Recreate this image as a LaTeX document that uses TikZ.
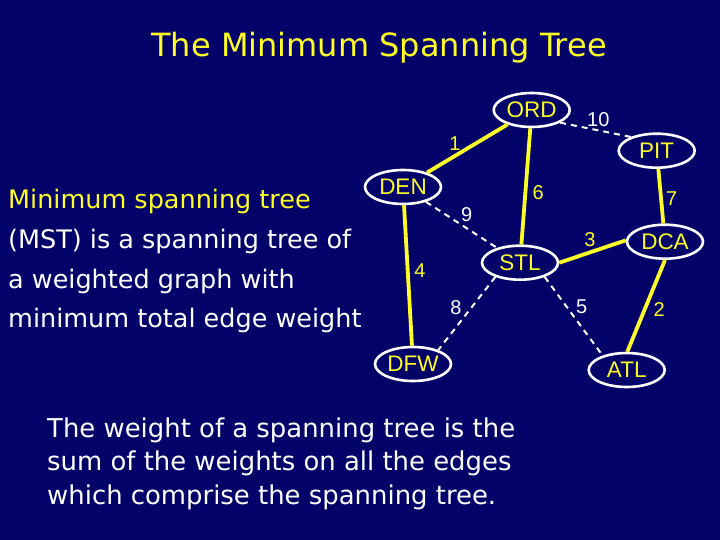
\documentclass[tikz,border=0pt]{standalone}
\usepackage{fontspec}
\setmainfont{DejaVu Sans}
\newfontfamily\labelfont{Liberation Sans}
\usetikzlibrary{shapes.geometric}
\definecolor{bg}{RGB}{2,2,104}
\definecolor{ylw}{RGB}{255,255,40}
\tikzset{
  city/.style={ellipse,draw=white,line width=2.6pt,fill=bg,minimum width=76pt,minimum height=34pt,inner sep=0pt,text=ylw,font=\labelfont\fontsize{22.5}{22.5}\selectfont},
  tree/.style={draw=ylw,line width=3.8pt},
  other/.style={draw=white,line width=2pt,dash pattern=on 6pt off 5pt},
  wt/.style={font=\labelfont\fontsize{20}{20}\selectfont,inner sep=0pt},
  wy/.style={wt,text=ylw},
  ww/.style={wt,text=white},
  leftline/.style={anchor=base west,inner sep=0pt,font=\fontsize{25.5}{26}\selectfont,text=white},
  botline/.style={anchor=base west,inner sep=0pt,font=\fontsize{25.9}{26}\selectfont,text=white}
}
\begin{document}
\begin{tikzpicture}[x=1pt,y=-1pt]
\fill[bg] (0,0) rectangle (720,540);
\useasboundingbox (0,0) rectangle (720,540);
\node[anchor=base,inner sep=0pt,text=ylw,font=\fontsize{32}{32}\selectfont] (title) at (379,57) {The Minimum Spanning Tree};
\node[leftline,text=ylw] (l1) at (8,209) {Minimum spanning tree};
\node[leftline] (l2) at (8,248) {(MST) is a spanning tree of};
\node[leftline] (l3) at (8,288) {a weighted graph with};
\node[leftline] (l4) at (8,327) {minimum total edge weight};
\node[botline] (b1) at (47,437) {The weight of a spanning tree is the};
\node[botline] (b2) at (47,470.5) {sum of the weights on all the edges};
\node[botline] (b3) at (47,504) {which comprise the spanning tree.};
\node[city] (ORD) at (531.7,110) {ORD};
\node[city] (PIT) at (656.7,150.7) {PIT};
\node[city] (DEN) at (403,187) {DEN};
\node[city] (DCA) at (665,241.7) {DCA};
\node[city] (STL) at (520,262.7) {STL};
\node[city] (DFW) at (413,364) {DFW};
\node[city] (ATL) at (626.7,370) {ATL};
\draw[tree] (ORD) -- (DEN);
\draw[tree] (ORD) -- (STL);
\draw[tree] (DEN) -- (DFW);
\draw[tree] (STL.east) -- (DCA.178);
\draw[tree] (PIT) -- (DCA);
\draw[tree] (DCA.270) -- (ATL.88);
\draw[other] (ORD.-24) -- (PIT.152);
\draw[other] (DEN) -- (STL);
\draw[other] (STL.210) -- (DFW.29);
\draw[other] (STL.-30) -- (ATL.149);
\node[wy] (w1) at (455,143.3) {1};
\node[wy] (w6) at (538.3,192.7) {6};
\node[ww] (w10) at (598.3,119.3) {10};
\node[wy] (w7) at (671.7,198.3) {7};
\node[ww] (w9) at (466.7,215) {9};
\node[wy] (w3) at (590,240) {3};
\node[wy] (w4) at (420,270.7) {4};
\node[ww] (w8) at (456,307.3) {8};
\node[ww] (w5) at (581.7,306.7) {5};
\node[wy] (w2) at (659.3,309.3) {2};
\end{tikzpicture}
\end{document}
